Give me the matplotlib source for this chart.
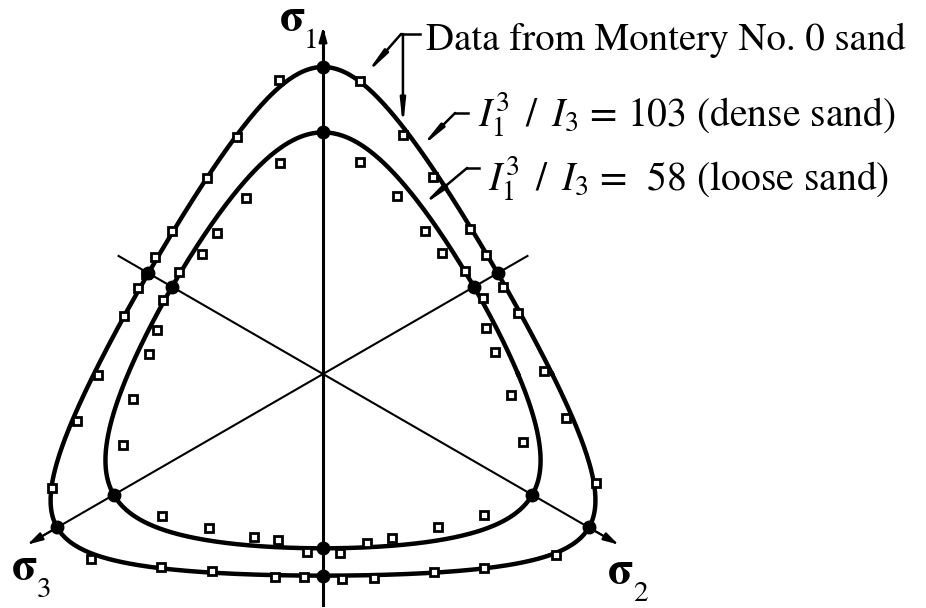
import numpy as np
import matplotlib.pyplot as plt

plt.rcParams['font.family'] = 'STIXGeneral'
plt.rcParams['mathtext.fontset'] = 'stix'

# Lade-Duncan failure constants I1^3/I3
k_dense = 103
k_loose = 58

# test results on the octahedral plane (normalised by mean stress)
dense_x = [-0.095, -0.186, -0.251, -0.327, -0.364, -0.383, -0.400, -0.431, -0.487, -0.532,
           -0.587, -0.502, -0.351, -0.240, -0.104, -0.041, 0.041, 0.110, 0.240, 0.348,
           0.504, 0.591, 0.526, 0.478, 0.422, 0.390, 0.353, 0.318, 0.238, 0.173, 0.080]
dense_y = [0.636, 0.513, 0.424, 0.310, 0.253, 0.216, 0.186, 0.126, -0.002, -0.102,
           -0.247, -0.400, -0.418, -0.426, -0.439, -0.439, -0.444, -0.442, -0.429, -0.420,
           -0.392, -0.236, -0.095, 0.006, 0.132, 0.188, 0.258, 0.314, 0.426, 0.517, 0.634]

loose_x = [-0.093, -0.167, -0.229, -0.262, -0.312, -0.346, -0.359, -0.377, -0.411, -0.433,
           -0.348, -0.247, -0.149, -0.097, -0.035, 0.037, 0.095, 0.149, 0.249, 0.348,
           0.433, 0.407, 0.372, 0.353, 0.346, 0.307, 0.258, 0.221, 0.160, 0.080]
loose_y = [0.457, 0.381, 0.305, 0.260, 0.221, 0.160, 0.095, 0.043, -0.054, -0.154,
           -0.307, -0.333, -0.353, -0.359, -0.385, -0.387, -0.366, -0.355, -0.331, -0.305,
           -0.147, -0.045, 0.048, 0.100, 0.165, 0.223, 0.262, 0.310, 0.385, 0.459]

axis_subs = ['1', '2', '3']


def failure_radius(theta, k):
    # sigma_i = 1 + 2a cos(theta - theta_i)  ->  I3 = 1 - 3a^2 + 2a^3 cos(3*phi)
    c3 = np.cos(3 * (theta - np.pi / 2))
    lo = np.zeros_like(theta)
    hi = np.ones_like(theta)
    for _ in range(60):
        mid = 0.5 * (lo + hi)
        f = 1 - 3 * mid**2 + 2 * mid**3 * c3 - 27.0 / k
        lo = np.where(f > 0, mid, lo)
        hi = np.where(f > 0, hi, mid)
    return 0.5 * (lo + hi)


def sigma_label(x, y, sub):
    t = ax.text(x, y, 'σ', fontsize=33, fontweight='bold', ha='left', va='baseline')
    ax.annotate(sub, xy=(1, 0), xycoords=t, xytext=(-1, -6), textcoords='offset points',
                fontsize=21, ha='left', va='baseline')


fig = plt.figure(figsize=(9.26, 6.08), dpi=100)
ax = fig.add_axes([0, 0, 1, 1])
ax.set_xlim(-0.699, 1.305)
ax.set_ylim(-0.5065, 0.8095)
ax.set_aspect('equal')
ax.axis('off')

# principal stress axes and the lines through the extension points
ax.plot([0, 0], [-0.5, 0.74], color='black', lw=2.2, zorder=1)
for ang in [np.radians(210), np.radians(330)]:
    ax.plot([-0.511 * np.cos(ang), 0.73 * np.cos(ang)],
            [-0.511 * np.sin(ang), 0.73 * np.sin(ang)], color='black', lw=1.5, zorder=1)

arrow = dict(arrowstyle='-|>,head_length=0.9,head_width=0.25', color='black', lw=1.5,
             shrinkA=0, shrinkB=0)
for ang, r_tip in [(np.radians(90), 0.751), (np.radians(330), 0.738), (np.radians(210), 0.738)]:
    ax.annotate('', xy=(r_tip * np.cos(ang), r_tip * np.sin(ang)),
                xytext=((r_tip - 0.06) * np.cos(ang), (r_tip - 0.06) * np.sin(ang)),
                arrowprops=arrow, zorder=2)

sigma_label(-0.094, 0.745, axis_subs[0])
sigma_label(0.617, -0.452, axis_subs[1])
sigma_label(-0.673, -0.444, axis_subs[2])

# failure surfaces
theta = np.linspace(0, 2 * np.pi, 721)
for k in [k_dense, k_loose]:
    a = failure_radius(theta, k)
    ax.plot(a * np.cos(theta), a * np.sin(theta), color='black', lw=3.2, zorder=3)
    th_ax = np.radians(np.arange(30, 360, 60))
    a_ax = failure_radius(th_ax, k)
    ax.plot(a_ax * np.cos(th_ax), a_ax * np.sin(th_ax), 'o', color='black', ms=9, zorder=5)

# test data
ax.plot(dense_x, dense_y, 's', ms=6, mfc='white', mec='black', mew=2.0, zorder=4)
ax.plot(loose_x, loose_y, 's', ms=6, mfc='white', mec='black', mew=2.0, zorder=4)

# labels and leaders
lead = dict(arrowstyle='-|>,head_length=1.4,head_width=0.15', color='black', lw=1.8,
            shrinkA=0, shrinkB=0)
ax.plot([0.169, 0.211], [0.736, 0.736], color='black', lw=1.8)
ax.annotate('', xy=(0.093, 0.649), xytext=(0.169, 0.736), arrowprops=lead)
ax.annotate('', xy=(0.173, 0.535), xytext=(0.173, 0.736), arrowprops=lead)
ax.text(0.223, 0.701, 'Data from Montery No. 0 sand', fontsize=28, va='baseline')

ax.plot([0.286, 0.314], [0.565, 0.565], color='black', lw=1.8)
ax.annotate('', xy=(0.212, 0.491), xytext=(0.286, 0.565), arrowprops=lead)
ax.text(0.335, 0.537, r'$I_1^3\enspace/\enspace I_3$ = %d (dense sand)' % k_dense,
        fontsize=28.5, va='baseline')

ax.plot([0.312, 0.338], [0.446, 0.446], color='black', lw=1.8)
ax.annotate('', xy=(0.214, 0.364), xytext=(0.312, 0.446), arrowprops=lead)
ax.text(0.357, 0.398, r'$I_1^3\enspace/\enspace I_3$ =  %d (loose sand)' % k_loose,
        fontsize=28.5, va='baseline')

plt.savefig('out.png', dpi=100)
